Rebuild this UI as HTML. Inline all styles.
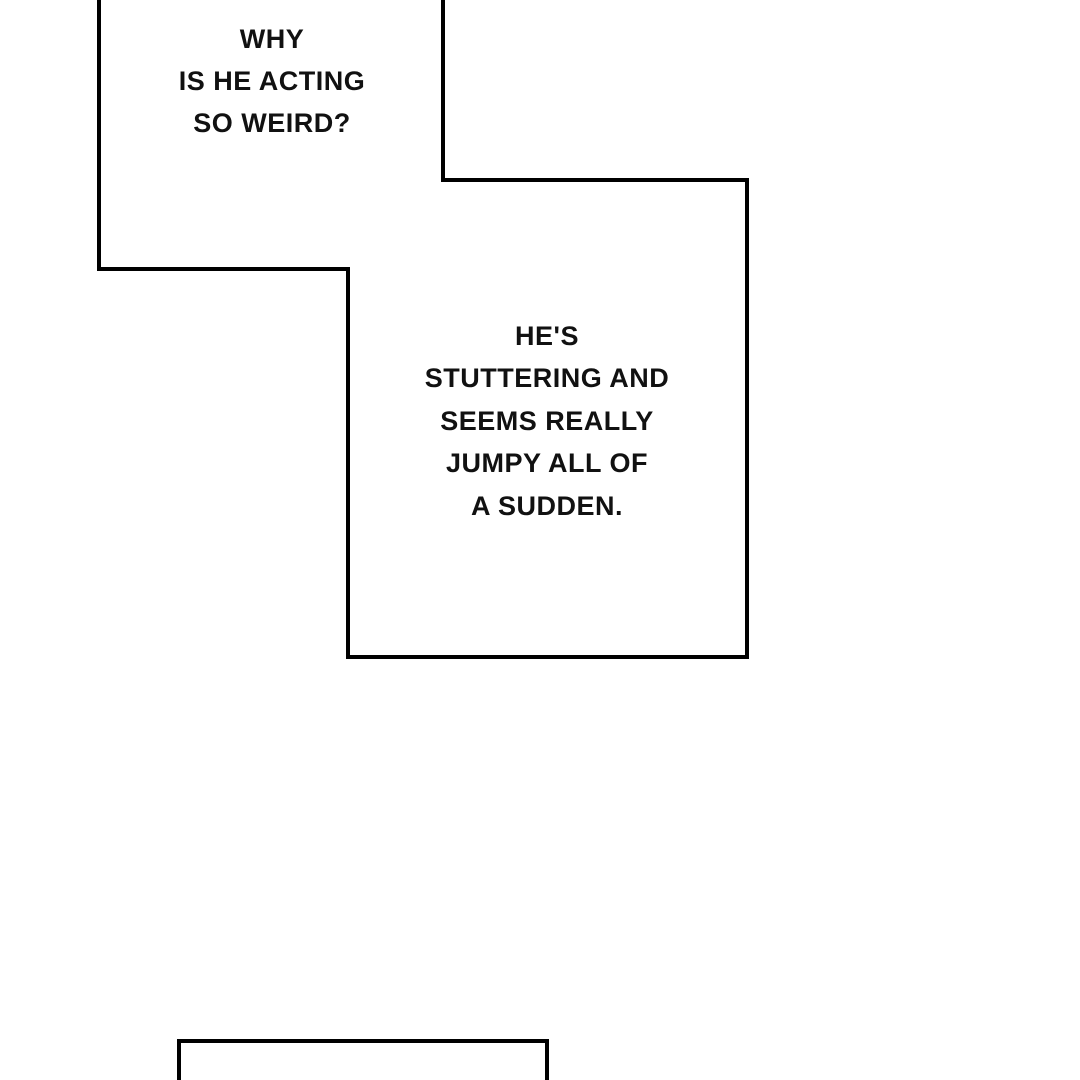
<!DOCTYPE html>
<html><head><style>html,body{margin:0;padding:0;background:#fff;width:1080px;height:1080px;overflow:hidden}</style></head>
<body>
<svg width="1080" height="1080" viewBox="0 0 1080 1080" xmlns="http://www.w3.org/2000/svg">
<rect width="1080" height="1080" fill="#fff"/>
<polyline points="99,-5 99,269 348,269 348,657 747,657 747,180 443,180 443,-5" fill="none" stroke="#000" stroke-width="4"/>
<polyline points="179,1085 179,1041 547,1041 547,1085" fill="none" stroke="#000" stroke-width="4"/>
<g font-family="'Liberation Sans', sans-serif" font-size="27" font-weight="bold" text-anchor="middle" fill="#111" letter-spacing="0.5">
<text x="272" y="48">WHY</text>
<text x="272" y="90">IS HE ACTING</text>
<text x="272" y="132">SO WEIRD?</text>
<text x="547" y="345">HE'S</text>
<text x="547" y="387">STUTTERING AND</text>
<text x="547" y="430">SEEMS REALLY</text>
<text x="547" y="472">JUMPY ALL OF</text>
<text x="547" y="515">A SUDDEN.</text>
</g>
</svg>
</body></html>
